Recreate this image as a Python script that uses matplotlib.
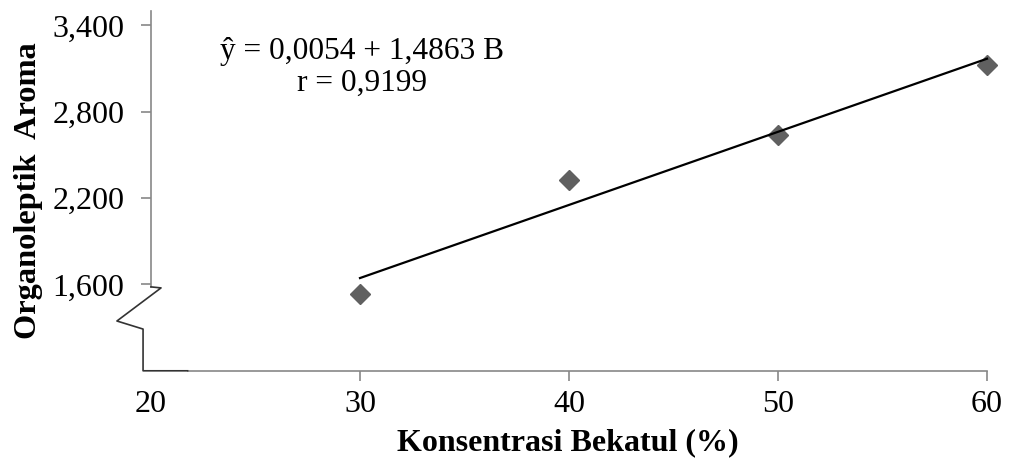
import matplotlib
matplotlib.use('Agg')
import matplotlib.pyplot as plt
from matplotlib.ticker import FuncFormatter
import numpy as np

# Data
konsentrasi = [30, 40, 50, 60]
aroma = [1536, 2326, 2639, 3125]
x_ticks = [20, 30, 40, 50, 60]
y_ticks = [1600, 2200, 2800, 3400]
equation = 'ŷ = 0,0054 + 1,4863 B'
r_text = 'r = 0,9199'

plt.rcParams['font.family'] = ['Liberation Serif', 'DejaVu Serif']

fig = plt.figure(figsize=(10.09, 4.68), dpi=100)
ax = fig.add_axes([151/1009, 1 - 370.8/468, 836/1009, 359.8/468])

# points and fitted line
ax.plot(konsentrasi, aroma, linestyle='none', marker='D', ms=10,
        color='#606060', zorder=3, clip_on=False)
b, a = np.polyfit(konsentrasi, aroma, 1)
xf = np.array([konsentrasi[0], konsentrasi[-1]])
ax.plot(xf, a + b*xf, color='k', lw=1.6, zorder=4, clip_on=False)

ax.set_xlim(20, 60)
ax.set_ylim(1000, 3500)
ax.set_xticks(x_ticks)
ax.set_yticks(y_ticks)
ax.yaxis.set_major_formatter(FuncFormatter(lambda v, p: f'{v:,.0f}'))

axis_gray = '#878787'
for s in ['top', 'right']:
    ax.spines[s].set_visible(False)
ax.spines['left'].set_color(axis_gray)
ax.spines['bottom'].set_color(axis_gray)
ax.spines['left'].set_linewidth(1.2)
ax.spines['bottom'].set_linewidth(1.2)
ax.spines['left'].set_bounds(1583, 3500)
ax.spines['bottom'].set_bounds(21.75, 60)
ax.tick_params(axis='both', colors=axis_gray, labelcolor='k', length=7,
               width=1.2, labelsize=23)
ax.tick_params(axis='y', pad=12)
ax.tick_params(axis='x', pad=7)
ax.xaxis.get_major_ticks()[0].tick1line.set_visible(False)

# axis break symbol
brk_x = [20, 20.48, 18.37, 19.62, 19.62, 21.75]
brk_y = [1583, 1576, 1346, 1290, 1000, 1000]
ax.plot(brk_x, brk_y, color='#333333', lw=1.2, clip_on=False, zorder=4)

# regression text
ax.text(0.252, 0.866, equation, transform=ax.transAxes, ha='center',
        va='baseline', fontsize=22.6)
ax.text(0.252, 0.777, r_text, transform=ax.transAxes, ha='center',
        va='baseline', fontsize=22.6)

fig.text(29/1009, 1 - 191/468, 'Organoleptik  Aroma', rotation=90,
         ha='center', va='center', fontsize=23.3, fontweight='bold')
fig.text(568/1009, 1 - 443/468, 'Konsentrasi Bekatul (%)',
         ha='center', va='center', fontsize=23, fontweight='bold')

fig.savefig('out.png', dpi=100)
